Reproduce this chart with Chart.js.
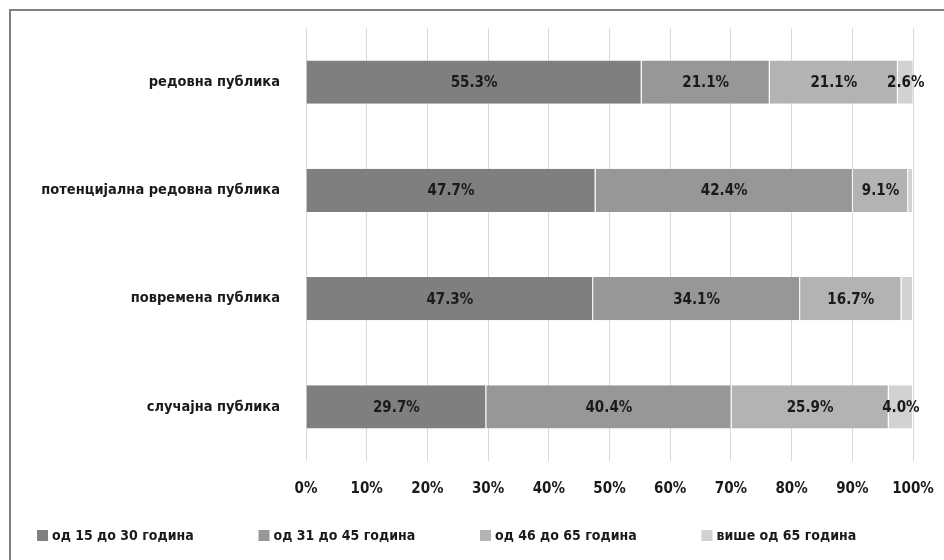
<!DOCTYPE html>
<html>
<head>
<meta charset="utf-8">
<script src="https://cdn.jsdelivr.net/npm/chart.js@4/dist/chart.umd.min.js"></script>
<style>
html,body{margin:0;padding:0;background:#fff;overflow:hidden;}
#wrap{position:absolute;left:0;top:0;width:944px;height:560px;}
#frame{position:absolute;left:9px;top:9px;width:935px;height:551px;border-left:2px solid #808080;border-top:2px solid #808080;box-sizing:border-box;pointer-events:none;}
</style>
</head>
<body>
<div id="wrap"><canvas id="c" width="944" height="560"></canvas><div id="frame"></div></div>
<script>
const categories = ['редовна публика','потенцијална редовна публика','повремена публика','случајна публика'];
const seriesNames = ['од 15 до 30 година','од 31 до 45 година','од 46 до 65 година','више од 65 година'];
const s15to30 = [55.3, 47.7, 47.3, 29.7];
const s31to45 = [21.1, 42.4, 34.1, 40.4];
const s46to65 = [21.1, 9.1, 16.7, 25.9];
const s65plus = [2.6, 0.8, 1.9, 4.0];
const xTicks = [0,10,20,30,40,50,60,70,80,90,100];
const colors = ['#7f7f7f','#979797','#b3b3b3','#d2d2d2'];
const FONT = "'Liberation Sans Narrow','DejaVu Sans Condensed','Roboto Condensed',sans-serif";

const seriesData = [s15to30, s31to45, s46to65, s65plus];
const datasets = seriesData.map((d,i)=>({
  label: seriesNames[i], data: d, backgroundColor: colors[i],
  borderColor:'#ffffff', borderWidth:{left:0,right:1,top:0,bottom:0}, borderSkipped:false,
  categoryPercentage:1.0, barPercentage:0.4
}));

const labelPlugin = {
  id:'vlabels',
  afterDatasetsDraw(chart){
    const ctx = chart.ctx;
    ctx.save();
    ctx.font = "bold 15px " + FONT;
    ctx.fillStyle = '#1a1a1a';
    ctx.textAlign = 'center';
    ctx.textBaseline = 'middle';
    chart.data.datasets.forEach((ds,di)=>{
      const meta = chart.getDatasetMeta(di);
      meta.data.forEach((el,i)=>{
        const v = ds.data[i];
        if (v < 2.5) return;
        const cx = (el.x + el.base)/2;
        ctx.fillText(v.toFixed(1)+'%', cx, el.y+1);
      });
    });
    ctx.restore();
  }
};

const legendPlugin = {
  id:'customLegend',
  afterDraw(chart){
    const ctx = chart.ctx;
    ctx.save();
    ctx.font = "bold 14px " + FONT;
    ctx.textBaseline = 'middle';
    ctx.textAlign = 'left';
    const y = 536;
    chart.data.datasets.forEach((ds,i)=>{
      const x = 37 + i*221.5;
      ctx.fillStyle = ds.backgroundColor;
      ctx.fillRect(x, y-6, 11, 11);
      ctx.fillStyle = '#1a1a1a';
      ctx.fillText(ds.label, x+15, y);
    });
    ctx.restore();
  }
};

new Chart(document.getElementById('c'), {
  type:'bar',
  data:{labels:categories, datasets},
  options:{
    indexAxis:'y',
    responsive:false,
    animation:false,
    devicePixelRatio:1,
    layout:{padding:{top:28,right:31,left:0,bottom:0}},
    plugins:{legend:{display:false}, tooltip:{enabled:false}},
    scales:{
      x:{
        stacked:true, min:0, max:100,
        afterBuildTicks(s){ s.ticks = xTicks.map(v=>({value:v})); },
        afterFit(s){ s.height = 99; s.paddingLeft = 0; s.paddingRight = 0; },
        grid:{color:'#d9d9d9', lineWidth:1, drawTicks:false},
        border:{display:false},
        ticks:{padding:19, color:'#1a1a1a', font:{family:FONT, size:15, weight:'bold'}, callback:v=>v+'%'}
      },
      y:{
        stacked:true,
        afterFit(s){ s.width = 306; s.paddingTop = 0; s.paddingBottom = 0; },
        grid:{display:false, drawTicks:false},
        border:{display:false},
        ticks:{padding:26, color:'#1a1a1a', font:{family:FONT, size:14.5, weight:'bold'}}
      }
    }
  },
  plugins:[labelPlugin, legendPlugin]
});
</script>
</body>
</html>
